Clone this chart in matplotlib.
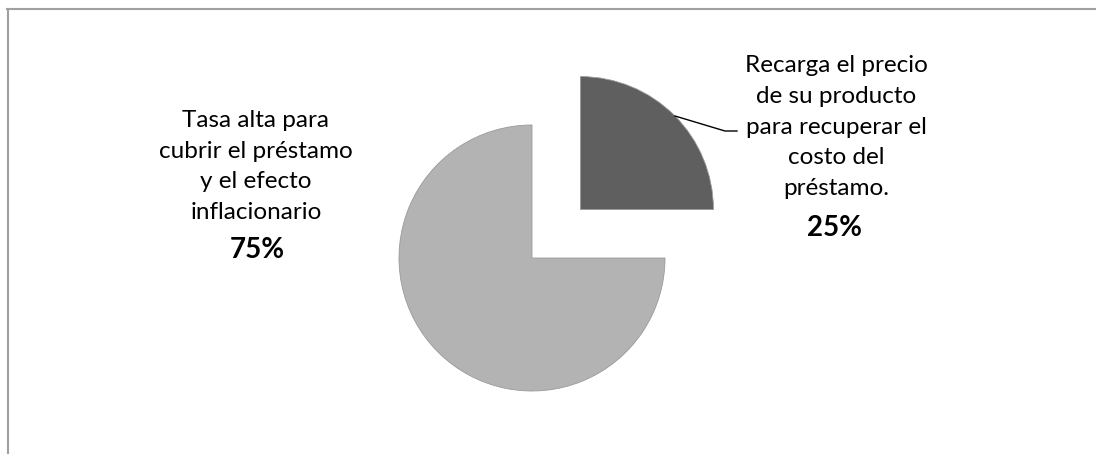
import matplotlib
matplotlib.use("Agg")
import matplotlib.pyplot as plt
from matplotlib.lines import Line2D

# data
shares = [25, 75]
labels = ["Recarga el precio\nde su producto\npara recuperar el\ncosto del\npréstamo.",
          "Tasa alta para\ncubrir el préstamo\ny el efecto\ninflacionario"]
pct_labels = ["25%", "75%"]
colors = ["#5f5f5f", "#b3b3b3"]

W, H = 1096, 454
fig = plt.figure(figsize=(W / 100, H / 100), dpi=100)
ax = fig.add_axes([0, 0, 1, 1])

fonts = ["Lato", "DejaVu Sans"]

# pie drawn in pixel-like data units; first slice pulled out
wedges, _ = ax.pie(shares, colors=colors, startangle=90, counterclock=False,
                   center=(532, H - 258), radius=133, explode=[68.5, 0],
                   wedgeprops=dict(linewidth=0.6, edgecolor="#9a9a9a"),
                   frame=True)
ax.set_xlim(0, W)
ax.set_ylim(0, H)
ax.set_aspect("equal")
ax.axis("off")

# leader line for the exploded slice
ax.plot([675, 725, 737], [H - 116, H - 131, H - 131], color="black", lw=1)

# labels (va="baseline" pins the last line's baseline)
ax.text(836, H - 195, labels[0], ha="center", va="baseline", fontsize=17.5,
        linespacing=1.57, family=fonts)
ax.text(835, H - 236, pct_labels[0], ha="center", va="baseline", fontsize=20,
        fontweight="bold", family=fonts)
ax.text(256, H - 219, labels[1], ha="center", va="baseline", fontsize=17.5,
        linespacing=1.57, family=fonts)
ax.text(257, H - 258, pct_labels[1], ha="center", va="baseline", fontsize=20,
        fontweight="bold", family=fonts)

# chart frame (left and top edges visible)
fig.add_artist(Line2D([7.5 / W, 7.5 / W], [0, 1 - 9 / H], color="#a0a0a0", lw=1.5))
fig.add_artist(Line2D([7 / W, 1], [1 - 9 / H, 1 - 9 / H], color="#a0a0a0", lw=1.5))

fig.savefig("out.png", dpi=100)
